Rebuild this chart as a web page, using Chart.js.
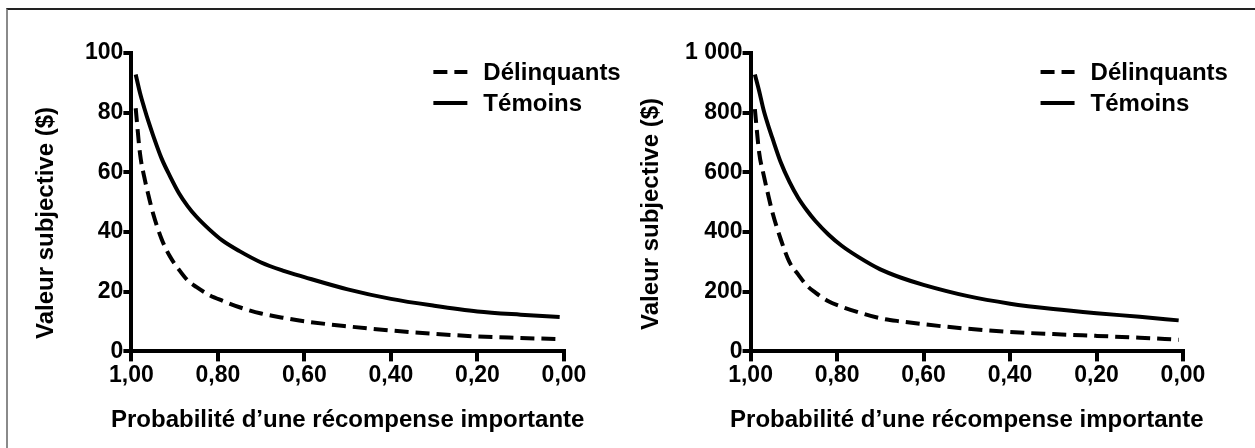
<!DOCTYPE html>
<html>
<head>
<meta charset="utf-8">
<script src="https://cdn.jsdelivr.net/npm/chart.js@4.4.1/dist/chart.umd.min.js"></script>
<style>
  html, body { margin: 0; padding: 0; background: #fff; }
  body { width: 1255px; height: 448px; position: relative; overflow: hidden; }
  #frame {
    position: absolute; left: 6px; top: 8px; right: 0; bottom: 0;
    border-top: 2px solid #222; border-left: 2px solid #8a8a8a;
  }
  canvas { position: absolute; top: 0; }
  #chart-small { left: 0; }
  #chart-large { left: 620px; }
</style>
</head>
<body>
<div id="frame"></div>
<canvas id="chart-small" width="620" height="448"></canvas>
<canvas id="chart-large" width="635" height="448"></canvas>
<script>
'use strict';

// ****** DATA ******

// probability of the large reward, x axis (runs from 1,00 down to 0,00)
const probLevels = [0.99, 0.98, 0.97, 0.96, 0.95, 0.93, 0.91, 0.89, 0.87, 0.85, 0.82, 0.79, 0.75,
  0.70, 0.65, 0.60, 0.50, 0.40, 0.30, 0.20, 0.10, 0.01];

const seriesNames = ['Délinquants', 'Témoins'];

// left panel : subjective value of a 100 $ reward
const smallDelinquants = [81.5, 66.2, 58.3, 52.0, 46.3, 37.6, 31.6, 27.4, 23.8, 21.6, 18.9, 17.0, 14.8,
  12.7, 11.3, 10.1, 8.4, 7.0, 5.9, 5.0, 4.5, 4.1];
const smallTemoins = [92.8, 86.6, 81.5, 76.8, 72.5, 64.6, 58.5, 53.0, 48.7, 45.2, 40.9, 37.2, 33.6,
  29.8, 27.1, 24.9, 20.8, 17.6, 15.3, 13.4, 12.3, 11.5];

// right panel : subjective value of a 1 000 $ reward
const largeDelinquants = [812, 665, 593, 529, 469, 375, 299, 258, 221, 197, 168, 150, 131,
  111, 100, 91, 76, 65, 58, 52, 46, 39];
const largeTemoins = [928, 872, 810, 761, 717, 633, 568, 515, 473, 437, 392, 355, 316,
  275, 246, 223, 186, 160, 142, 128, 116, 104];

// axis ticks
const xTicks = [1.0, 0.8, 0.6, 0.4, 0.2, 0.0];
const smallYTicks = [0, 20, 40, 60, 80, 100];
const largeYTicks = [0, 200, 400, 600, 800, 1000];

const xTitle = 'Probabilité d’une récompense importante';
const yTitle = 'Valeur subjective ($)';

// ****** HELPERS ******

const FONT = '"Liberation Sans", Arial, Helvetica, sans-serif';

function toPoints(values) {
  return values.map((v, i) => ({ x: probLevels[i], y: v }));
}

function formatProb(value) {
  return value.toFixed(2).replace('.', ',');
}

// 1000 -> "1 000"
function formatDollars(value) {
  return String(value).replace(/\B(?=(\d{3})+(?!\d))/g, ' ');
}

// legend drawn inside the plot, top right, like the original figure
const insideLegend = {
  id: 'insideLegend',
  afterDraw(chart, args, opts) {
    const ctx = chart.ctx;
    const area = chart.chartArea;
    ctx.save();
    ctx.font = 'bold 24px ' + FONT;
    ctx.textBaseline = 'middle';
    ctx.textAlign = 'left';
    chart.data.datasets.forEach((ds, i) => {
      const x = area.left + opts.left;
      const y = area.top + opts.top + i * opts.rowGap;
      ctx.beginPath();
      ctx.setLineDash(ds.borderDash || []);
      ctx.lineWidth = ds.borderWidth;
      ctx.strokeStyle = ds.borderColor;
      ctx.moveTo(x, y);
      ctx.lineTo(x + opts.sample, y);
      ctx.stroke();
      ctx.setLineDash([]);
      ctx.fillStyle = '#000';
      ctx.fillText(ds.label, x + opts.sample + opts.gap, y + 1);
    });
    ctx.restore();
  }
};

// axis titles: the built-in ones squeeze the text to the axis length
// and always center it, the original does neither
const axisTitles = {
  id: 'axisTitles',
  afterDraw(chart, args, opts) {
    const ctx = chart.ctx;
    const area = chart.chartArea;
    ctx.save();
    ctx.font = 'bold 24px ' + FONT;
    ctx.fillStyle = '#000';
    ctx.textAlign = 'center';
    ctx.textBaseline = 'middle';
    ctx.fillText(xTitle, (area.left + area.right) / 2, opts.xTitleY);
    ctx.translate(opts.yTitleX, opts.yTitleY);
    ctx.rotate(-Math.PI / 2);
    ctx.fillText(yTitle, 0, 0);
    ctx.restore();
  }
};

function makeChart(canvasId, delinquants, temoins, yTicks, yFormat, pad, titlePos, legendLeft) {
  const ctx = document.getElementById(canvasId).getContext('2d');
  return new Chart(ctx, {
    type: 'line',
    data: {
      datasets: [{
        label: seriesNames[0],
        data: toPoints(delinquants),
        borderColor: '#000',
        borderWidth: 4,
        borderDash: [14, 7],
        pointRadius: 0,
        fill: false,
        cubicInterpolationMode: 'monotone'
      },
      {
        label: seriesNames[1],
        data: toPoints(temoins),
        borderColor: '#000',
        borderWidth: 4,
        pointRadius: 0,
        fill: false,
        cubicInterpolationMode: 'monotone'
      }]
    },
    options: {
      responsive: false,
      animation: false,
      devicePixelRatio: 1,
      layout: { padding: pad },
      plugins: {
        legend: { display: false },
        tooltip: { enabled: false },
        insideLegend: { left: legendLeft, top: 19, rowGap: 31, sample: 34, gap: 16 },
        axisTitles: titlePos
      },
      scales: {
        x: {
          type: 'linear',
          reverse: true,
          min: xTicks[xTicks.length - 1],
          max: xTicks[0],
          afterBuildTicks: (scale) => { scale.ticks = xTicks.map(v => ({ value: v })); },
          border: { color: '#000', width: 4 },
          grid: { drawOnChartArea: false, color: '#000', lineWidth: 4, tickLength: 10 },
          ticks: {
            padding: 0,
            color: '#000',
            maxRotation: 0,
            font: { family: FONT, size: 23, weight: 'bold' },
            callback: (value) => formatProb(value)
          }
        },
        y: {
          type: 'linear',
          min: yTicks[0],
          max: yTicks[yTicks.length - 1],
          afterBuildTicks: (scale) => { scale.ticks = yTicks.map(v => ({ value: v })); },
          border: { color: '#000', width: 4 },
          grid: { drawOnChartArea: false, color: '#000', lineWidth: 4, tickLength: 8 },
          ticks: {
            padding: 0,
            color: '#000',
            font: { family: FONT, size: 23, weight: 'bold' },
            callback: (value) => yFormat(value)
          }
        }
      }
    },
    plugins: [insideLegend, axisTitles]
  });
}

makeChart('chart-small', smallDelinquants, smallTemoins, smallYTicks, (v) => String(v),
  { left: 85, top: 53, right: 56, bottom: 59 },
  { xTitleY: 420, yTitleX: 46, yTitleY: 223 }, 302);

makeChart('chart-large', largeDelinquants, largeTemoins, largeYTicks, formatDollars,
  { left: 65, top: 53, right: 72, bottom: 59 },
  { xTitleY: 420, yTitleX: 31, yTitleY: 214 }, 290);
</script>
</body>
</html>
